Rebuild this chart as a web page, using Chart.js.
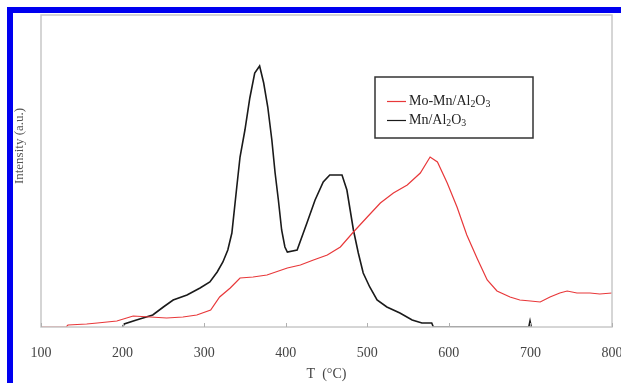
<!DOCTYPE html>
<html>
<head>
<meta charset="utf-8">
<script src="https://cdn.jsdelivr.net/npm/chart.js@4.4.0/dist/chart.umd.min.js"></script>
<style>
	body { margin: 0; background: #fff; }
	#frame {
		position: absolute; left: 7px; top: 7px; width: 614px; height: 376px;
		border-top: 6px solid #0000f0; border-left: 6px solid #0000f0;
		box-sizing: border-box;
	}
	#wrap { position: absolute; left: 0; top: 0; width: 621px; height: 383px; }
</style>
</head>
<body>
<div id="frame"></div>
<div id="wrap"><canvas id="myChart" width="621" height="383"></canvas></div>
<script>
// Temperature (°C) and intensity (a.u.)
const moMnTemp = [100, 131, 133, 156, 169, 193, 213, 234, 254, 274, 291, 308, 319, 332, 344, 360, 377, 402, 418, 434, 451, 467, 483, 500, 516, 532, 549, 565, 577, 586, 598, 610, 622, 635, 647, 659, 675, 687, 700, 712, 724, 736, 745, 757, 773, 785, 800];
const moMnValue = [0, 0, 2, 3, 4, 6, 11, 10, 9, 10, 12, 17, 30, 39, 49, 50, 52, 59, 62, 67, 72, 80, 95, 110, 124, 134, 142, 154, 170, 165, 144, 120, 92, 68, 47, 36, 30, 27, 26, 25, 30, 34, 36, 34, 34, 33, 34];

const mnTemp = [200, 202, 217, 237, 250, 262, 279, 295, 307, 316, 323, 329, 334, 340, 344, 350, 356, 362, 368, 373, 378, 383, 387, 391, 395, 399, 402, 414, 426, 436, 446, 454, 469, 475, 479, 483, 489, 495, 503, 512, 524, 540, 555, 567, 579, 581, 698, 699.5, 701];
const mnValue = [0, 3, 7, 12, 20, 27, 32, 39, 45, 55, 65, 77, 94, 140, 170, 197, 229, 254, 261, 244, 220, 187, 154, 127, 97, 80, 75, 77, 104, 127, 145, 152, 152, 137, 117, 97, 74, 54, 40, 27, 20, 14, 7, 4, 4, 0, 0, 6, 0];

const xTicks = [100, 200, 300, 400, 500, 600, 700, 800];
const seriesLabels = ["Mo-Mn/Al₂O₃", "Mn/Al₂O₃"];

function toPoints(xs, ys) {
	return xs.map((x, i) => ({ x: x, y: ys[i] }));
}

// text with subscript digits drawn smaller and lower
function drawChem(ctx, text, x, y, size) {
	const parts = text.split(/([₂₃])/);
	for (const p of parts) {
		if (p === "") continue;
		if (p === "₂" || p === "₃") {
			ctx.font = (size * 0.7) + "px 'Liberation Serif'";
			const d = p === "₂" ? "2" : "3";
			ctx.fillText(d, x, y + size * 0.25);
			x += ctx.measureText(d).width;
		} else {
			ctx.font = size + "px 'Liberation Serif'";
			ctx.fillText(p, x, y);
			x += ctx.measureText(p).width;
		}
	}
}

const extras = {
	id: "extras",
	afterDraw(chart) {
		const ctx = chart.ctx;
		const a = chart.chartArea;
		const xs = chart.scales.x;
		ctx.save();
		// plot frame
		ctx.strokeStyle = "#c8c8c8";
		ctx.lineWidth = 1.5;
		ctx.strokeRect(a.left, a.top, a.right - a.left, a.bottom - a.top);
		// inner tick marks
		ctx.lineWidth = 1;
		ctx.strokeStyle = "#b0b0b0";
		for (const t of xTicks) {
			const px = Math.round(xs.getPixelForValue(t)) + 0.5;
			ctx.beginPath();
			ctx.moveTo(px, a.bottom);
			ctx.lineTo(px, a.bottom - 4);
			ctx.stroke();
		}
		// y axis title
		ctx.fillStyle = "#555";
		ctx.font = "13px 'Liberation Serif'";
		ctx.textAlign = "center";
		ctx.textBaseline = "middle";
		ctx.translate(20, 146);
		ctx.rotate(-Math.PI / 2);
		ctx.fillText("Intensity (a.u.)", 0, 0);
		ctx.restore();

		// legend box
		ctx.save();
		ctx.fillStyle = "#fff";
		ctx.fillRect(375, 77, 158, 61);
		ctx.strokeStyle = "#333";
		ctx.lineWidth = 1.5;
		ctx.strokeRect(375, 77, 158, 61);
		ctx.textAlign = "left";
		ctx.textBaseline = "middle";
		const rowsY = [101, 120];
		chart.data.datasets.forEach((ds, i) => {
			ctx.strokeStyle = ds.borderColor;
			ctx.lineWidth = 1.2;
			ctx.beginPath();
			ctx.moveTo(387, rowsY[i] + 0.5);
			ctx.lineTo(406, rowsY[i] + 0.5);
			ctx.stroke();
			ctx.fillStyle = "#222";
			drawChem(ctx, ds.label, 409, rowsY[i], 14);
		});
		ctx.restore();
	}
};

const ctx = document.getElementById("myChart").getContext("2d");
const myChart = new Chart(ctx, {
	type: "line",
	data: {
		datasets: [
			{
				label: seriesLabels[0],
				data: toPoints(moMnTemp, moMnValue),
				borderColor: "#e8383a",
				borderWidth: 1.2,
				pointRadius: 0,
				tension: 0,
			},
			{
				label: seriesLabels[1],
				data: toPoints(mnTemp, mnValue),
				borderColor: "#1a1a1a",
				borderWidth: 1.6,
				pointRadius: 0,
				tension: 0,
			},
		],
	},
	options: {
		responsive: false,
		animation: false,
		layout: { padding: { left: 41, right: 9, top: 15, bottom: 0 } },
		plugins: {
			legend: { display: false },
			tooltip: { enabled: false },
		},
		scales: {
			x: {
				type: "linear",
				min: 100,
				max: 800,
				afterFit: (s) => {
					s.height = 56;
					s.paddingLeft = 0;
					s.paddingRight = 0;
				},
				afterBuildTicks: (s) => { s.ticks = xTicks.map((v) => ({ value: v })); },
				grid: { display: false, tickLength: 0 },
				border: { display: false },
				ticks: {
					color: "#444",
					font: { family: "'Liberation Serif'", size: 14 },
					padding: 18,
					maxRotation: 0,
				},
				title: {
					display: true,
					text: "T  (°C)",
					color: "#444",
					font: { family: "'Liberation Serif'", size: 14 },
					padding: { top: 0, bottom: 0 },
				},
			},
			y: {
				display: false,
				min: 0,
				max: 312,
			},
		},
	},
	plugins: [extras],
});
</script>
</body>
</html>
